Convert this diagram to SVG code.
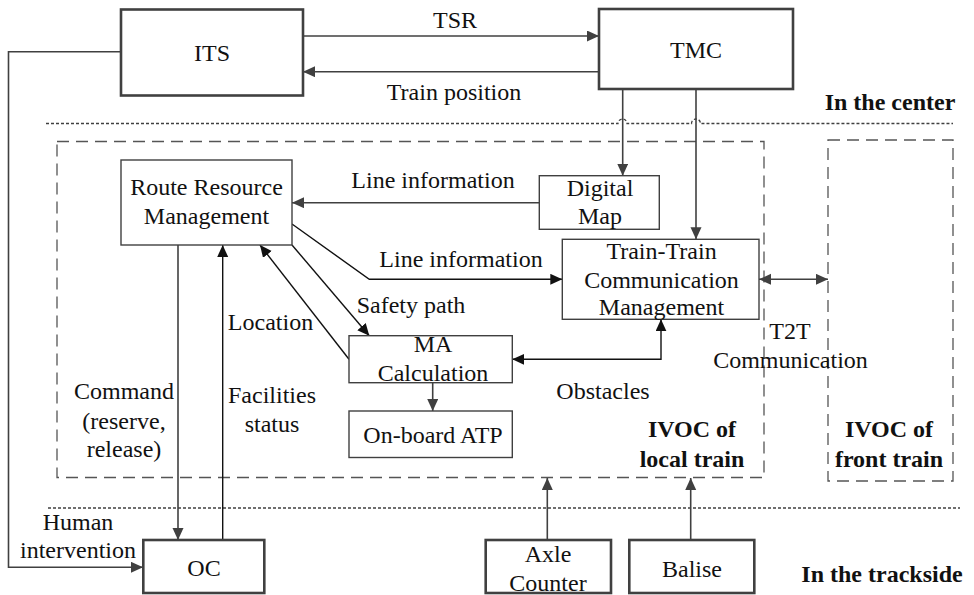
<svg xmlns="http://www.w3.org/2000/svg" width="974" height="595" viewBox="0 0 974 595" font-family="'Liberation Serif', Tinos, 'Times New Roman', 'DejaVu Serif', serif">
<defs>
<marker id="ag" markerUnits="userSpaceOnUse" markerWidth="13" markerHeight="12" refX="12" refY="5.5" orient="auto-start-reverse"><path d="M0,0 L12,5.5 L0,11 z" fill="#404040"/></marker>
<marker id="ab" markerUnits="userSpaceOnUse" markerWidth="13" markerHeight="12" refX="12" refY="5.5" orient="auto-start-reverse"><path d="M0,0 L12,5.5 L0,11 z" fill="#111"/></marker>
<style>
text{font-size:24px;fill:#111;text-anchor:middle}
.b{font-weight:bold}
.thick{fill:#fff;stroke:#404040;stroke-width:2.6}
.thin{fill:#fff;stroke:#404040;stroke-width:1.4}
.dash{fill:none;stroke:#555;stroke-width:1.3;stroke-dasharray:12,7}
.dot{fill:none;stroke:#404040;stroke-width:1.3;stroke-dasharray:3,2}
.cg{fill:none;stroke:#404040;stroke-width:1.6}
.cb{fill:none;stroke:#111;stroke-width:1.4}
</style>
</defs>
<g id="zones">
<path class="dot" d="M46,123.5 H618 a4.5,4.5 0 0 1 9,0 H691.5 a4.5,4.5 0 0 1 9,0 H953"/>
<path class="dot" d="M48,508 H960"/>
<rect class="dash" x="57" y="141.5" width="707" height="336"/>
<rect class="dash" x="828" y="140" width="125" height="341"/>
<text class="b" x="890" y="110">In the center</text>
<text class="b" x="882" y="582">In the trackside</text>
<text class="b" x="692" y="437">IVOC of</text>
<text class="b" x="692" y="467">local train</text>
<text class="b" x="889" y="437">IVOC of</text>
<text class="b" x="889" y="467">front train</text>
</g>
<g id="connectors">
<path class="cg" d="M303,36 H599" marker-end="url(#ag)"/>
<path class="cg" d="M599,71.7 H303" marker-end="url(#ag)"/>
<path class="cg" d="M121,51.7 H8.5 V567.3 H143" marker-end="url(#ag)"/>
<path class="cg" d="M622.7,89 V175.7" marker-end="url(#ag)"/>
<path class="cg" d="M696,89 V239.3" marker-end="url(#ag)"/>
<path class="cg" d="M539.3,202.7 H292" marker-end="url(#ag)"/>
<path class="cb" d="M292,224 L369.3,279.3 H562.3" marker-end="url(#ab)"/>
<path class="cb" d="M292,245 L369.3,335.7" marker-end="url(#ab)"/>
<path class="cb" d="M349,359.3 L260,245" marker-end="url(#ab)"/>
<path class="cb" d="M661,319.3 V359.3 H512.3" marker-start="url(#ab)" marker-end="url(#ab)"/>
<path class="cg" d="M759,279.3 H828" marker-start="url(#ag)" marker-end="url(#ag)"/>
<path class="cg" d="M432.7,382.7 V411" marker-end="url(#ag)"/>
<path class="cg" d="M178,245 V540" marker-end="url(#ag)"/>
<path class="cb" d="M222.7,540 V245" marker-end="url(#ab)"/>
<path class="cg" d="M547.3,540 V478" marker-end="url(#ag)"/>
<path class="cg" d="M690.7,540 V478" marker-end="url(#ag)"/>
<text x="455" y="28">TSR</text>
<text x="454" y="100">Train position</text>
<text x="433" y="188">Line information</text>
<text x="461" y="267">Line information</text>
<text x="411" y="313">Safety path</text>
<text x="270.5" y="330">Location</text>
<text x="603" y="399">Obstacles</text>
<text x="790" y="339">T2T</text>
<text x="790.5" y="368">Communication</text>
<text x="124" y="399">Command</text>
<text x="124" y="429">(reserve,</text>
<text x="124" y="457">release)</text>
<text x="272" y="403">Facilities</text>
<text x="272" y="432">status</text>
<text x="78" y="530">Human</text>
<text x="78" y="558">intervention</text>
</g>
<g id="ITS"><rect class="thick" x="121" y="9.5" width="182" height="86"/><text x="212" y="61">ITS</text></g>
<g id="TMC"><rect class="thick" x="599" y="9" width="194" height="80"/><text x="696" y="58">TMC</text></g>
<g id="RRM"><rect class="thin" x="121" y="160" width="171" height="85"/><text x="206.5" y="195">Route Resource</text><text x="206.5" y="224">Management</text></g>
<g id="DigitalMap"><rect class="thin" x="539.3" y="175.7" width="120" height="53.6"/><text x="600" y="196">Digital</text><text x="600" y="224">Map</text></g>
<g id="TTCM"><rect class="thin" x="562.3" y="239.3" width="196.7" height="80"/><text x="661.5" y="259">Train-Train</text><text x="661.5" y="288">Communication</text><text x="661.5" y="315">Management</text></g>
<g id="MA"><rect class="thin" x="349" y="335.7" width="163.3" height="47"/><text x="433" y="352.3">MA</text><text x="433" y="380.7">Calculation</text></g>
<g id="ATP"><rect class="thin" x="349" y="411" width="163.3" height="46.5"/><text x="433" y="443">On-board ATP</text></g>
<g id="OC"><rect class="thick" x="143.3" y="540" width="121" height="53"/><text x="204" y="576">OC</text></g>
<g id="AxleCounter"><rect class="thick" x="485.7" y="540" width="125.3" height="53"/><text x="548" y="562">Axle</text><text x="548" y="591">Counter</text></g>
<g id="Balise"><rect class="thick" x="629.3" y="540" width="125" height="53"/><text x="692" y="577">Balise</text></g>
</svg>
